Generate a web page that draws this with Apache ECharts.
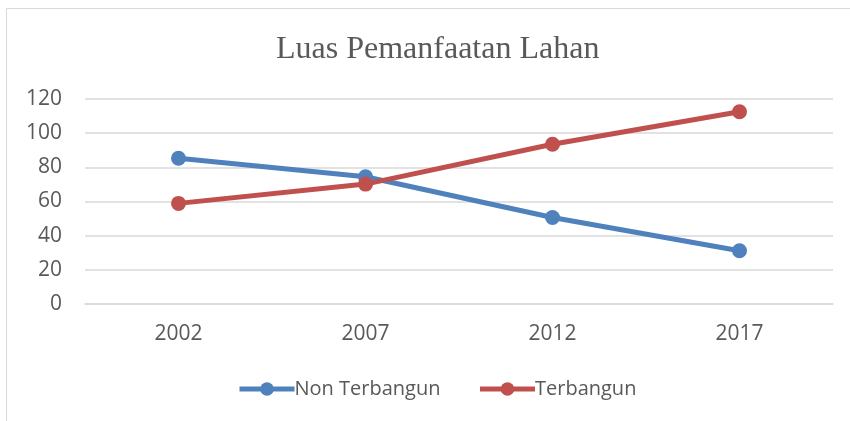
<!DOCTYPE html>
<html><head><meta charset="utf-8">
<script src="https://cdn.jsdelivr.net/npm/echarts@6/dist/echarts.min.js"></script>
<style>html,body{margin:0;padding:0;background:#fff}#c{width:850px;height:421px}</style>
</head><body><div id="c"></div>
<script>
var categories = ['2002', '2007', '2012', '2017'];
var nonTerbangun = [85.3, 74.5, 50.6, 31.2];
var terbangun = [58.9, 70.2, 93.5, 112.5];
var yTicks = [0, 20, 40, 60, 80, 100, 120];

var chart = echarts.init(document.getElementById('c'), null, {renderer: 'canvas'});
chart.setOption({
  animation: false,
  backgroundColor: '#fff',
  graphic: [{type: 'rect', shape: {x: 6.5, y: 8.5, width: 860, height: 430}, style: {fill: 'none', stroke: '#d9d9d9', lineWidth: 1}, silent: true}],
  title: {text: 'Luas Pemanfaatan Lahan', left: 271, top: 29,
    textStyle: {fontFamily: 'Liberation Serif', fontSize: 32, fontWeight: 'normal', color: '#595959'}},
  legend: {top: 374, left: 232, itemWidth: 55, itemHeight: 17, itemGap: 37,
    lineStyle: {width: 5},
    textStyle: {fontFamily: 'Open Sans', fontSize: 20, color: '#595959', padding: [0,0,0,-5]},
    data: ['Non Terbangun', 'Terbangun']},
  grid: {left: 85, right: 17, top: 99, bottom: 117, containLabel: false},
  xAxis: {type: 'category', data: categories, boundaryGap: true,
    axisLine: {show: true, lineStyle: {color: '#d9d9d9', width: 1.5}},
    axisTick: {show: false},
    axisLabel: {margin: 20, fontFamily: 'Open Sans', fontSize: 21, color: '#595959'}},
  yAxis: {type: 'value', min: yTicks[0], max: yTicks[yTicks.length-1], interval: 20,
    axisLine: {show: false}, axisTick: {show: false},
    axisLabel: {margin: 23, fontFamily: 'Open Sans', fontSize: 21, color: '#595959'},
    splitLine: {lineStyle: {color: '#d9d9d9', width: 1.5}}},
  series: [
    {name: 'Non Terbangun', type: 'line', data: nonTerbangun, symbol: 'circle', symbolSize: 15,
      lineStyle: {width: 5, color: '#4F81BD'}, itemStyle: {color: '#4F81BD'}},
    {name: 'Terbangun', type: 'line', data: terbangun, symbol: 'circle', symbolSize: 15,
      lineStyle: {width: 5, color: '#C0504D'}, itemStyle: {color: '#C0504D'}}
  ]
});
</script></body></html>
